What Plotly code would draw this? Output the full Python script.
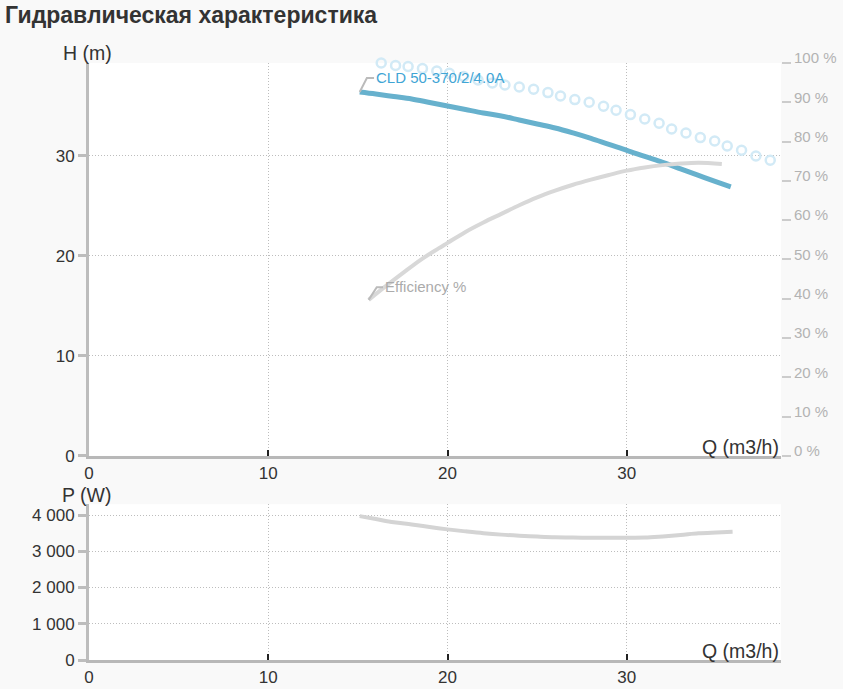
import plotly.graph_objects as go

# values
q_head=[15.1,16,17,18,19,20,21,22,23,24,25,26,27,28,29,30,31,32,33,34,35,35.8]
head=[36.4,36.2,35.95,35.7,35.35,35.0,34.65,34.3,34.0,33.6,33.2,32.8,32.3,31.75,31.15,30.57,29.95,29.35,28.7,28.05,27.4,26.9]
q_eff=[15.6,16.5,17.5,18.5,19.5,20,21,22,23,24,25,26,27,28,29,30,31,32,33,34,35.3]
eff=[39.7,43.0,46.5,49.9,52.8,54.2,57.0,59.4,61.6,63.8,65.8,67.5,69.0,70.3,71.5,72.6,73.4,74.0,74.4,74.6,74.3]
q_dots=[16.3,17.1,17.8,18.6,19.4,20.1,20.9,21.7,22.5,23.2,24.0,24.8,25.6,26.3,27.1,27.9,28.7,29.4,30.2,31.0,
        31.8,32.5,33.3,34.1,34.9,35.6,36.4,37.2,38.0,38.7]
h_dots=[39.3,39.05,38.95,38.74,38.5,38.27,37.95,37.6,37.3,37.1,36.9,36.67,36.34,36.0,35.64,35.37,34.97,34.57,34.14,33.7,
        33.27,32.7,32.3,31.84,31.5,31.0,30.57,30.0,29.57,28.94]
q_pow=[15.1,16,17,18,19,20,21,22,23,24,25,26,27,28,29,30,31,32,33,34,35,35.9]
power=[3970,3890,3800,3740,3670,3605,3550,3500,3460,3430,3405,3385,3378,3375,3375,3375,3378,3410,3450,3495,3520,3540]

q_ticks=[0,10,20,30]
h_ticks=[0,10,20,30]
eff_ticks=[0,10,20,30,40,50,60,70,80,90,100]
eff_labels=[f"{v} %" for v in eff_ticks]
p_ticks=[0,1000,2000,3000,4000]
p_labels=['0','1 000','2 000','3 000','4 000']

pump_name='CLD 50-370/2/4.0A'
eff_name='Efficiency %'

FONT='Liberation Sans, Arial, sans-serif'
TXT='#333333'
H_RANGE=[0,39.3]; Q_RANGE=[0,38.6]; P_RANGE=[0,4300]

fig=go.Figure()
fig.add_trace(go.Scatter(x=q_pow,y=power,mode='lines',line=dict(color='#d4d4d4',width=4,shape='spline'),xaxis='x2',yaxis='y3',hoverinfo='skip'))
fig.add_trace(go.Scatter(x=q_eff,y=eff,mode='lines',line=dict(color='#d8d8d8',width=4,shape='spline'),yaxis='y2',hoverinfo='skip'))
fig.add_trace(go.Scatter(x=q_dots,y=h_dots,mode='markers',cliponaxis=False,hoverinfo='skip',
    marker=dict(symbol='circle-open',size=9,color='#d2eaf6',line=dict(width=2.5,color='#d2eaf6'))))
fig.add_trace(go.Scatter(x=q_head,y=head,mode='lines',line=dict(color='#67b1cd',width=5,shape='spline'),hoverinfo='skip'))

grid=dict(showgrid=True,gridcolor='#bdbdbd',griddash='1px,2px',gridwidth=1,zeroline=False,automargin=False)
xcommon=dict(range=Q_RANGE,tickvals=q_ticks,ticks='inside',ticklen=6,tickwidth=2,tickcolor='#222',
             showline=True,linecolor='#b8b8b8',linewidth=3,tickfont=dict(size=17,color=TXT),**grid)
ycommon=dict(showline=True,linecolor='#bdbdbd',linewidth=3,ticks='outside',ticklen=8,tickwidth=3,tickcolor='#bdbdbd',
             tickfont=dict(size=17,color=TXT),ticklabelstandoff=0,**grid)
phantom=dict(showline=False,showgrid=False,zeroline=False,showticklabels=False,ticks='inside',ticklen=9,
             tickwidth=3,tickcolor='#bdbdbd',side='left',automargin=False)

fig.update_layout(
    template='none',
    width=843,height=689,paper_bgcolor='#f9f9f9',plot_bgcolor='#ffffff',showlegend=False,
    font=dict(family=FONT,color=TXT),
    margin=dict(l=89,r=62,t=63,b=29,autoexpand=False),
    title=dict(text='<b>Гидравлическая характеристика</b>',x=0.006,xref='container',xanchor='left',
               y=0.978,yanchor='middle',font=dict(size=23,color=TXT)),
    xaxis=dict(domain=[0,1],anchor='y',**xcommon),
    xaxis2=dict(domain=[0,1],anchor='y3',**xcommon),
    yaxis=dict(domain=[0.342,1],range=H_RANGE,tickvals=h_ticks,anchor='x',**ycommon),
    yaxis2=dict(overlaying='y',side='right',range=[0,100],tickvals=eff_ticks,ticktext=eff_labels,anchor='x',
                showgrid=False,zeroline=False,showline=False,ticks='outside',ticklen=9,tickwidth=2,tickcolor='#cccccc',
                tickfont=dict(size=15,color='#b3b3b3'),ticklabelstandoff=0,ticklabelshift=-5,automargin=False),
    yaxis3=dict(domain=[0,0.261],range=P_RANGE,tickvals=p_ticks,ticktext=p_labels,anchor='x2',**ycommon),
    yaxis4=dict(overlaying='y',range=H_RANGE,tickvals=h_ticks,anchor='x',**phantom),
    yaxis5=dict(overlaying='y3',range=P_RANGE,tickvals=p_ticks,anchor='x2',**phantom),
)

# axis titles
ax_font=dict(size=19.5,color=TXT)
fig.add_annotation(text='H (m)',xref='paper',yref='paper',x=0.036,y=1.017,xanchor='right',yanchor='middle',showarrow=False,font=ax_font)
fig.add_annotation(text='Q (m3/h)',xref='paper',yref='paper',x=1.0,y=0.357,xanchor='right',yanchor='middle',showarrow=False,font=ax_font)
fig.add_annotation(text='P (W)',xref='paper',yref='paper',x=0.035,y=0.276,xanchor='right',yanchor='middle',showarrow=False,font=ax_font)
fig.add_annotation(text='Q (m3/h)',xref='paper',yref='paper',x=1.0,y=0.015,xanchor='right',yanchor='middle',showarrow=False,font=ax_font)

# series labels with little bent leader lines
x0,y0=q_head[0],head[0]
fig.add_shape(type='path',xref='x',yref='y',path=f"M {x0} {y0} L {x0+0.4} {y0+1.4} L {x0+0.8} {y0+1.4}",
              line=dict(color='#bbbbbb',width=2))
fig.add_annotation(text=pump_name,x=x0+0.8,y=y0+1.45,xref='x',yref='y',xanchor='left',yanchor='middle',
                   showarrow=False,font=dict(size=15,color='#3fa5d5'))
x1,y1=q_eff[0],eff[0]
fig.add_shape(type='path',xref='x',yref='y2',path=f"M {x1} {y1} L {x1+0.45} {y1+3.2} L {x1+0.8} {y1+3.2}",
              line=dict(color='#bbbbbb',width=2))
fig.add_annotation(text=eff_name,x=x1+0.8,y=y1+3.3,xref='x',yref='y2',xanchor='left',yanchor='middle',
                   showarrow=False,font=dict(size=15,color='#ababab'))

fig.write_html("out.html",config={'displayModeBar':False},
               post_script="document.body.style.margin='0';document.body.style.overflow='hidden';")
